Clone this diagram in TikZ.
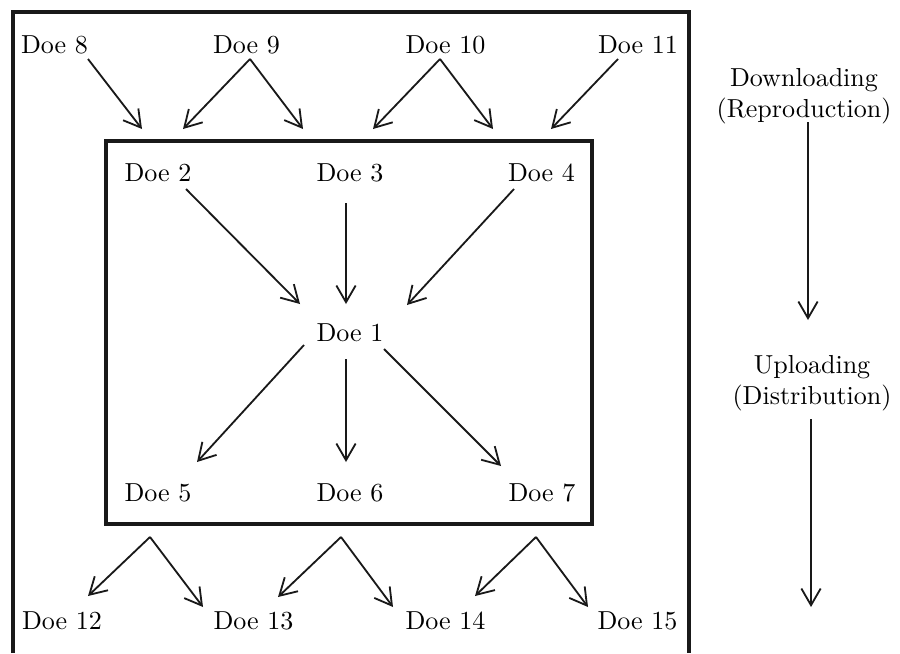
\documentclass[tikz,border=0pt]{standalone}
\usetikzlibrary{arrows.meta}

\begin{document}
\begin{tikzpicture}[x=0.0135cm, y=-0.0135cm,
    doe/.style={inner sep=2pt},
    frame/.style={draw=black!90, line width=1.4pt},
    arr/.style={-{Straight Barb[length=6.4pt,width=7.4pt]}, line width=0.7pt, black!90}]
  \useasboundingbox (0,0) rectangle (900,653);
  % the two frames
  \draw[frame] (13,653) -- (13,12) -- (689,12) -- (689,653);
  \draw[frame] (106,141) rectangle (592,524);
  % outer ring, top and bottom
  \node[doe] (d8) at (54.5,45) {Doe 8};
  \node[doe] (d9) at (246.5,45) {Doe 9};
  \node[doe] (d10) at (445.5,45) {Doe 10};
  \node[doe] (d11) at (638,45) {Doe 11};
  \node[doe] (d12) at (62,621) {Doe 12};
  \node[doe] (d13) at (253.5,621) {Doe 13};
  \node[doe] (d14) at (445.5,621) {Doe 14};
  \node[doe] (d15) at (637.5,621) {Doe 15};
  % inner box
  \node[doe] (d2) at (158,173) {Doe 2};
  \node[doe] (d3) at (350,173) {Doe 3};
  \node[doe] (d4) at (541.5,173) {Doe 4};
  \node[doe] (d1) at (350,333) {Doe 1};
  \node[doe] (d5) at (158,493) {Doe 5};
  \node[doe] (d6) at (350,493) {Doe 6};
  \node[doe] (d7) at (542,493) {Doe 7};
  % right column
  \node[align=center] (dl) at (804,96) {Downloading\\(Reproduction)};
  \node[align=center] (ul) at (812,383) {Uploading\\(Distribution)};
  \coordinate (ulend) at (811,607);
  % arrow ends on the inner frame
  \coordinate (in1) at (142,129);
  \coordinate (in2) at (183,129);
  \coordinate (in3) at (303,129);
  \coordinate (in4) at (373,129);
  \coordinate (in5) at (493,129);
  \coordinate (in6) at (551,129);
  % downloading
  \draw[arr] ([shift={(33.5,14)}]d8.center) -- (in1);
  \foreach \t in {in2,in3}
    \draw[arr] ([shift={(3.5,14)}]d9.center) -- (\t);
  \foreach \t in {in4,in5}
    \draw[arr] ([shift={(-5.5,14)}]d10.center) -- (\t);
  \draw[arr] ([shift={(-20,14)}]d11.center) -- (in6);
  \draw[arr] ([shift={(28,16)}]d2.center) -- ([shift={(-50,-29)}]d1.center);
  \draw[arr] ([shift={(-4,30)}]d3.center) -- ([shift={(-4,-29)}]d1.center);
  \draw[arr] ([shift={(-27.5,16)}]d4.center) -- ([shift={(57,-28)}]d1.center);
  % uploading
  \draw[arr] ([shift={(-46,12)}]d1.center) -- ([shift={(39,-31)}]d5.center);
  \draw[arr] ([shift={(-4,26)}]d1.center) -- ([shift={(-4,-31)}]d6.center);
  \draw[arr] ([shift={(34,16)}]d1.center) -- ([shift={(-41,-27)}]d7.center);
  \foreach \s/\sx/\t/\tx/\ty in {d5/-8/d12/26/-25, d5/-8/d13/-50.5/-14,
      d6/-9/d13/24.5/-24, d6/-9/d14/-52.5/-14,
      d7/-6/d14/29.5/-25, d7/-6/d15/-49.5/-14}
    \draw[arr] ([shift={(\sx,44)}]\s.center) -- ([shift={(\tx,\ty)}]\t.center);
  \draw[arr] ([shift={(4,26)}]dl.center) -- ([shift={(-4,-63)}]ul.center);
  \draw[arr] ([shift={(-1,36)}]ul.center) -- (ulend);
\end{tikzpicture}
\end{document}
